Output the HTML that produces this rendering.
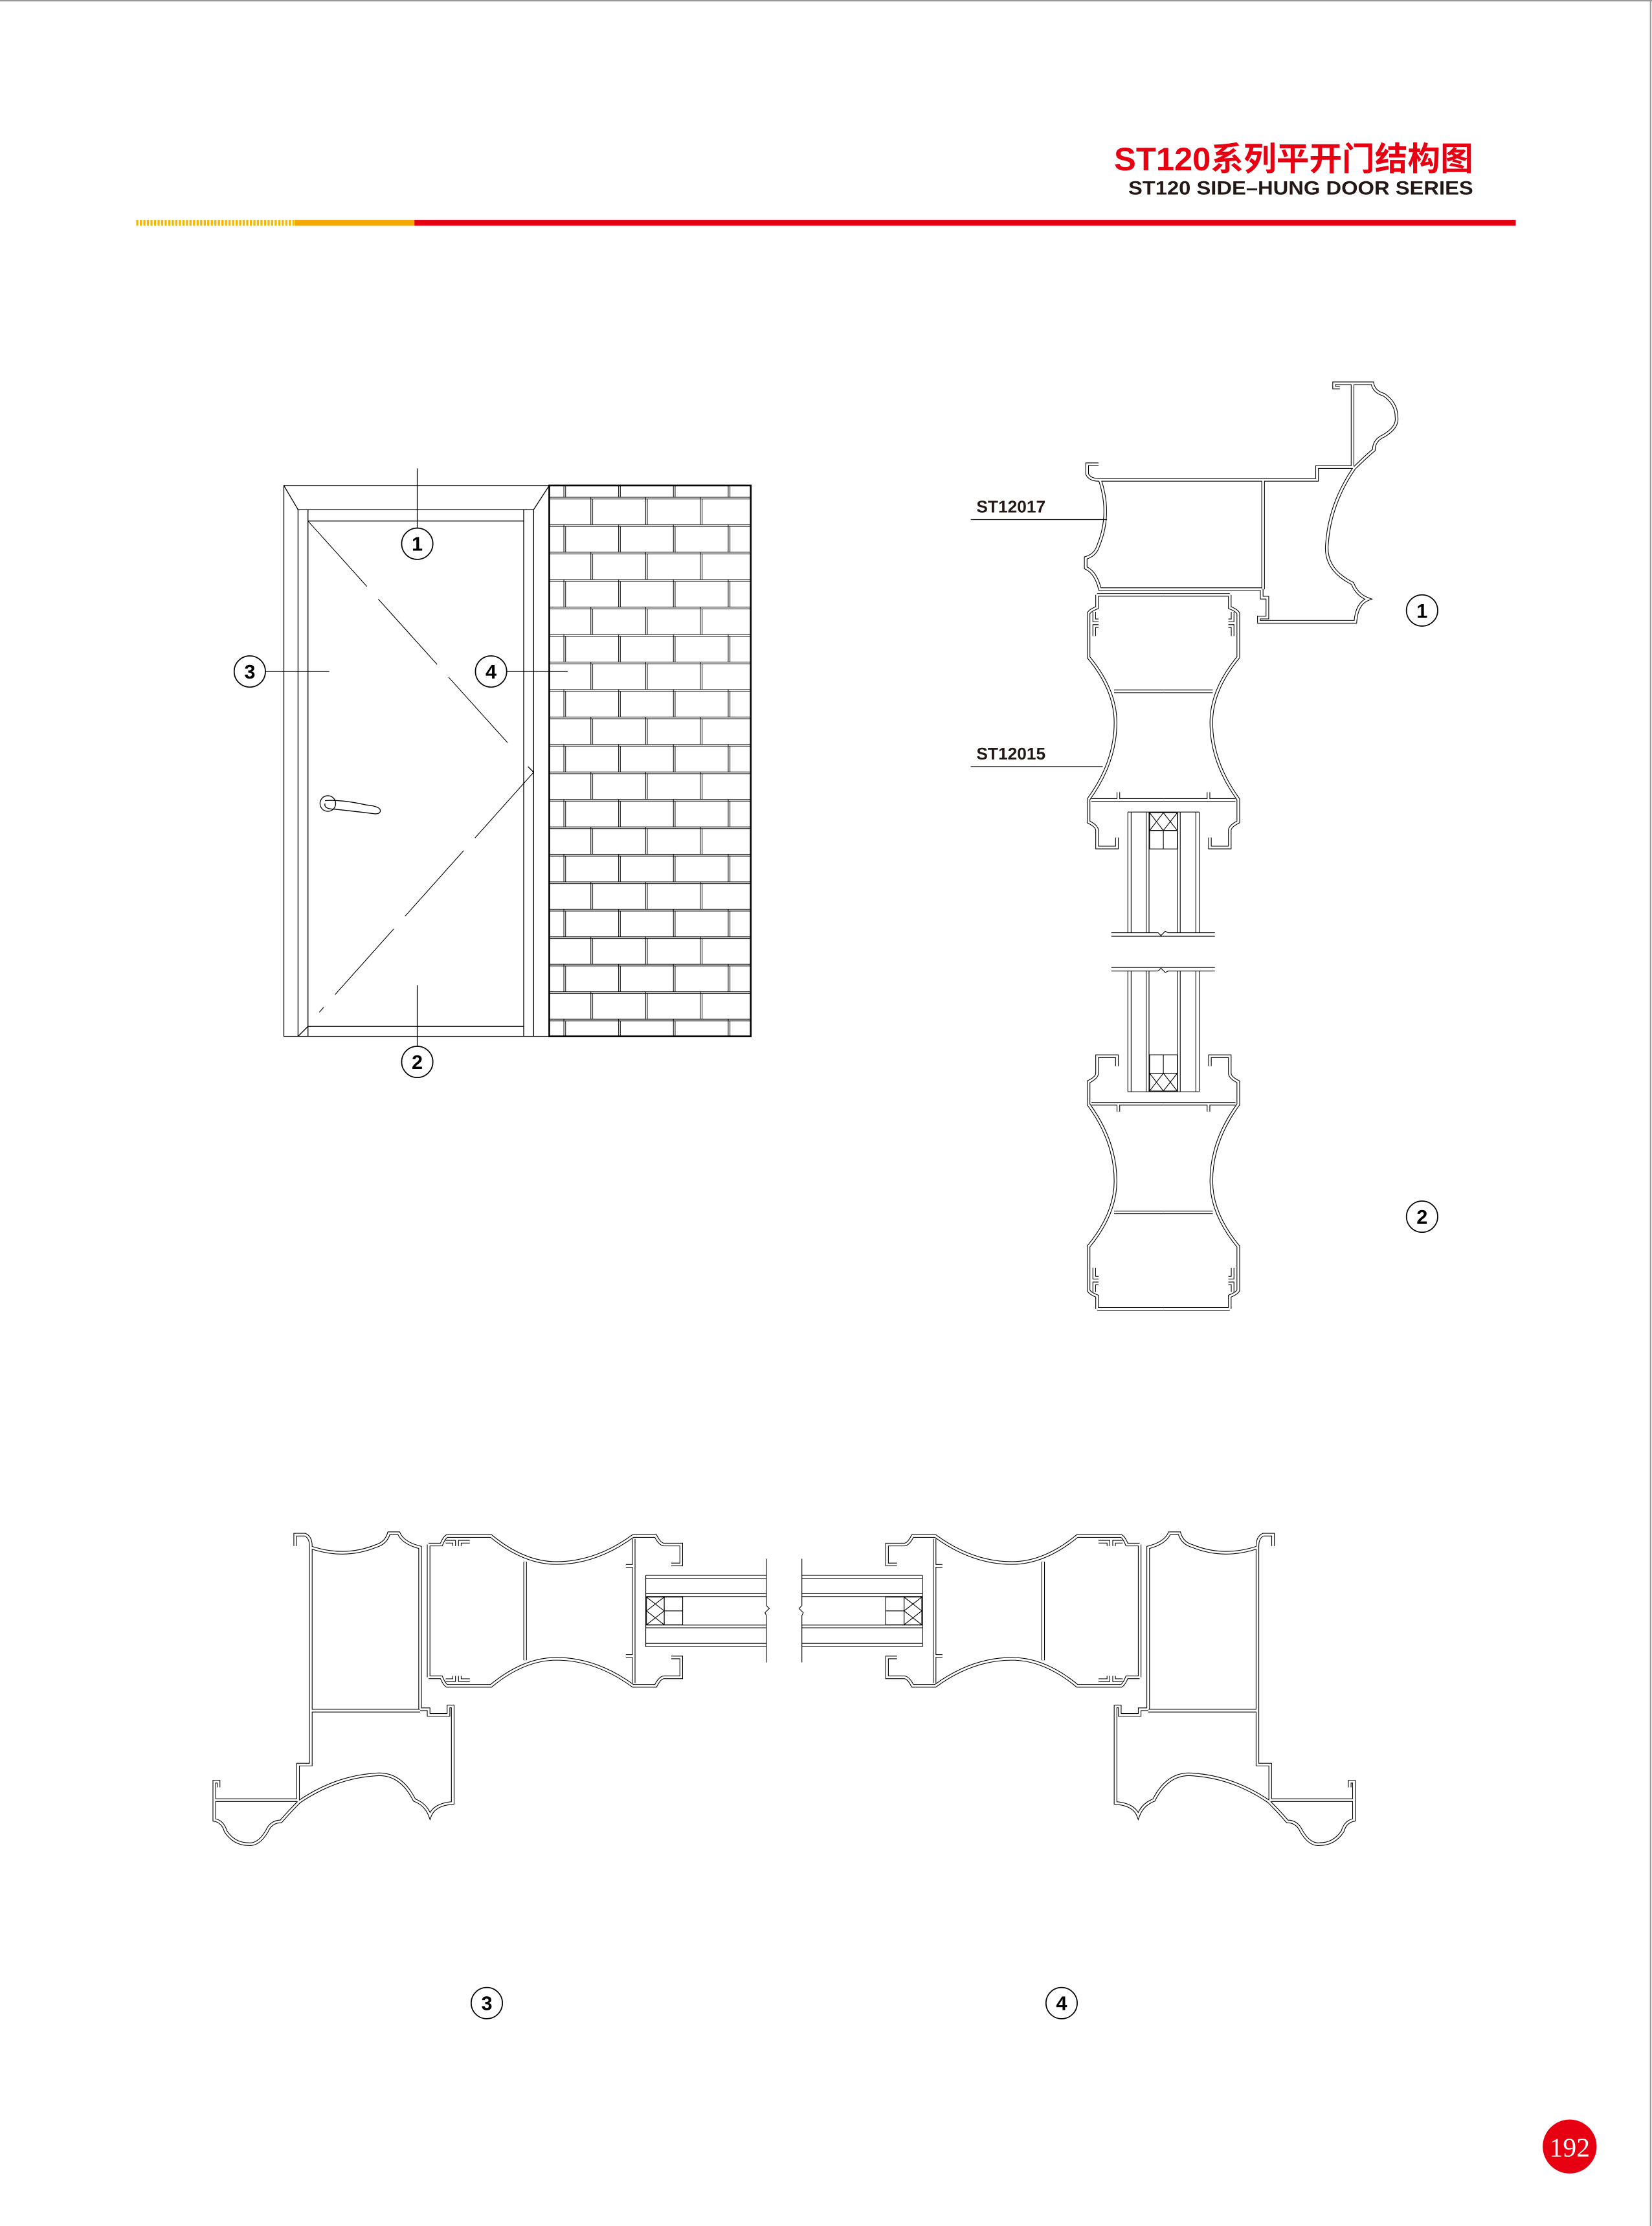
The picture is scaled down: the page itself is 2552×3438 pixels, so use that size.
<!DOCTYPE html>
<html><head><meta charset="utf-8"><style>
html,body{margin:0;padding:0;background:#fff}
svg{display:block}
</style></head><body>
<svg xmlns="http://www.w3.org/2000/svg" xmlns:xlink="http://www.w3.org/1999/xlink" width="2552" height="3438" viewBox="0 0 1164 1568" preserveAspectRatio="none">
<defs>
<pattern id="brick" patternUnits="userSpaceOnUse" x="397" y="330.65" width="38.6" height="38.7">
 <rect width="38.6" height="38.7" fill="#fff"/>
 <g stroke="#000" stroke-width="0.45" fill="none">
  <line x1="0" y1="0.3" x2="38.6" y2="0.3"/><line x1="0" y1="1.5" x2="38.6" y2="1.5"/>
  <line x1="0" y1="19.65" x2="38.6" y2="19.65"/><line x1="0" y1="20.85" x2="38.6" y2="20.85"/>
  <line x1="0.3" y1="0" x2="0.3" y2="19.6"/><line x1="1.5" y1="1.5" x2="1.5" y2="19.6"/>
  <line x1="19.3" y1="19.6" x2="19.3" y2="38.7"/><line x1="20.5" y1="20.85" x2="20.5" y2="38.7"/>
 </g>
</pattern>
<g id="frameH">
 <path d="M208 1089 L208 1081 L215 1081 Q219 1083 219 1089 L219 1243 L210 1243 L210 1269"/>
 <path d="M219 1090 Q243 1098 265 1089 Q272 1087 274 1080 L281 1080 Q284 1087 296 1090 L296 1204"/>
 <path d="M219 1205 L296 1205"/>
 <path d="M296 1204 L302 1204 L302 1208 L316 1208 L316 1202 L319 1202 L319 1270 Q306 1271 303 1279 Q300 1271 292 1268 Q282 1248 264 1250 Q236 1252 211 1269 Q203 1277 198 1283 Q191 1283 188 1290 Q182 1300 175 1299 Q165 1299 159 1290 Q157 1283 151 1282 L151 1255 L154 1255 L154 1259"/>
 <path d="M151 1268 L210 1268"/>
</g>
<g id="sashHalf">
 <path d="M302 1088 L311 1088 Q313 1083 315 1082 L346 1082 Q369 1101 392 1101 Q420 1101 446 1082 L462 1082 Q465 1088 468 1088 L480 1088 L480 1102 L473 1102"/>
 <path d="M314 1086 L320 1086 L320 1089 M324 1089 L324 1086 L331 1086"/>
 <path d="M446.5 1084 L446.5 1134.75 M441 1103 L446 1103"/>
 <path d="M370 1100 L370 1134.75"/>
 <path d="M302 1088 L302 1134.75"/>
</g>
<g id="sashH">
 <use xlink:href="#sashHalf"/>
 <use xlink:href="#sashHalf" transform="translate(0,2269.5) scale(1,-1)"/>
</g>
<g id="glassH" stroke="#000" stroke-width="0.5" fill="none">
 <path d="M455 1109.7 L540 1109.7 M455 1112 L540 1112 M455 1122.6 L540 1122.6 M455 1124.6 L540 1124.6 M455 1144.7 L540 1144.7 M455 1146.6 L540 1146.6 M455 1157.6 L540 1157.6 M455 1160 L540 1160"/>
 <path d="M455 1109.7 L455 1160"/>
 <rect x="455.5" y="1125" width="12.5" height="19.5"/>
 <path d="M455.5 1125 L468 1134.7 L455.5 1144.5 M468 1125 L455.5 1134.7 L468 1144.5"/>
 <rect x="468" y="1125" width="13" height="19.5"/>
 <path d="M468 1134.7 L481 1134.7"/>
 <path d="M540 1098 L540 1131 L542 1133 L539 1136 L540 1138 L540 1171"/>
</g>
<g id="assembly">
 <g stroke="#000" stroke-width="2.4" fill="none"><use xlink:href="#frameH"/><use xlink:href="#sashH"/></g>
 <g stroke="#fff" stroke-width="1.4" fill="none"><use xlink:href="#frameH"/><use xlink:href="#sashH"/></g>
 <use xlink:href="#glassH"/>
</g>
</defs>

<line x1="0" y1="0.5" x2="1164" y2="0.5" stroke="#999" stroke-width="1"/>
<line x1="1163" y1="0" x2="1163" y2="1568" stroke="#999" stroke-width="1"/>

<text x="785" y="120" textLength="253" lengthAdjust="spacingAndGlyphs" font-family="'Liberation Sans','Noto Sans CJK SC',sans-serif" font-weight="bold" font-size="23" fill="#e60012">ST120系列平开门结构图</text>
<text x="795" y="137" textLength="243" lengthAdjust="spacingAndGlyphs" font-family="'Liberation Sans',sans-serif" font-weight="bold" font-size="13.5" fill="#231815">ST120 SIDE–HUNG DOOR SERIES</text>
<line x1="96" y1="157" x2="208" y2="157" stroke="#f5b800" stroke-width="4" stroke-dasharray="1.5 1"/>
<rect x="208" y="155" width="84" height="4" fill="#f5a800"/>
<rect x="292" y="155" width="776" height="4" fill="#e60012"/>

<g stroke="#000" stroke-width="0.6" fill="none">
 <rect x="387" y="342" width="142" height="388" fill="url(#brick)" stroke-width="1.2"/>
 <rect x="200" y="342" width="187" height="388"/>
 <path d="M200 342 L210 359 M387 342 L376 359"/>
 <path d="M210 359 L376 359 M217 367 L369 367 M217 723 L369 723"/>
 <path d="M210 359 L210 730 M217 359 L217 730 M369 359 L369 730 M376 359 L376 730"/>
 <path d="M210 730 L217 723"/>
 <path d="M217 367 L362 528" stroke-dasharray="62 12" stroke-width="0.5"/>
 <path d="M376 544 L225 713" stroke-dasharray="62 12" stroke-width="0.5"/>
 <path d="M372 540 L376 544"/>
 <circle cx="231" cy="566" r="5.5"/>
 <path d="M229 564 Q240 563 258 567 Q268 568 268 571 Q268 574 262 573 Q246 571 236 570 Q228 570 229 566"/>
 <path d="M294 330 L294 372 M294 694 L294 737 M187 473 L232 473 M357 473 L400 473"/>
</g>
<g font-family="'Liberation Sans',sans-serif" font-weight="bold" font-size="14" text-anchor="middle" fill="#000">
 <circle cx="294" cy="383" r="11" fill="#fff" stroke="#000" stroke-width="0.8"/><text x="294" y="388">1</text>
 <circle cx="294" cy="748" r="11" fill="#fff" stroke="#000" stroke-width="0.8"/><text x="294" y="753">2</text>
 <circle cx="176" cy="473" r="11" fill="#fff" stroke="#000" stroke-width="0.8"/><text x="176" y="478">3</text>
 <circle cx="346" cy="473" r="11" fill="#fff" stroke="#000" stroke-width="0.8"/><text x="346" y="478">4</text>
 <circle cx="1002" cy="430" r="11" fill="#fff" stroke="#000" stroke-width="0.8"/><text x="1002" y="435">1</text>
 <circle cx="1002" cy="857" r="11" fill="#fff" stroke="#000" stroke-width="0.8"/><text x="1002" y="862">2</text>
 <circle cx="343" cy="1411" r="11" fill="#fff" stroke="#000" stroke-width="0.8"/><text x="343" y="1416">3</text>
 <circle cx="748" cy="1411" r="11" fill="#fff" stroke="#000" stroke-width="0.8"/><text x="748" y="1416">4</text>
</g>

<g stroke="#000" stroke-width="2.4" fill="none">
 <use xlink:href="#frameH" transform="matrix(0,1,1,0,-315,119)"/>
 <use xlink:href="#sashH" transform="matrix(0,1,1,0,-315,117)"/>
 <use xlink:href="#sashH" transform="matrix(0,-1,1,0,-315,1224)"/>
</g>
<g stroke="#fff" stroke-width="1.4" fill="none">
 <use xlink:href="#frameH" transform="matrix(0,1,1,0,-315,119)"/>
 <use xlink:href="#sashH" transform="matrix(0,1,1,0,-315,117)"/>
 <use xlink:href="#sashH" transform="matrix(0,-1,1,0,-315,1224)"/>
</g>
<g stroke="#000" stroke-width="0.5" fill="none">
 <use xlink:href="#glassH" transform="matrix(0,1,1,0,-315,117)"/>
 <use xlink:href="#glassH" transform="matrix(0,-1,1,0,-315,1224)"/>
 <path d="M783 659.5 L856 659.5 M783 681.5 L856 681.5"/>
 <rect x="783" y="660" width="73" height="21" fill="#fff" stroke="none"/>
 <path d="M684 366 L780 366 M684 540 L777 540" stroke-width="0.6"/>
</g>
<g font-family="'Liberation Sans',sans-serif" font-weight="bold" font-size="12" fill="#231815">
 <text x="688" y="361">ST12017</text>
 <text x="688" y="535">ST12015</text>
</g>

<use xlink:href="#assembly"/>
<use xlink:href="#assembly" transform="translate(1105,0) scale(-1,1)"/>

<circle cx="1106" cy="1512" r="19" fill="#e60012"/>
<text x="1106" y="1519" text-anchor="middle" font-family="'Liberation Serif',serif" font-size="19" fill="#fff">192</text>
</svg>
</body></html>
